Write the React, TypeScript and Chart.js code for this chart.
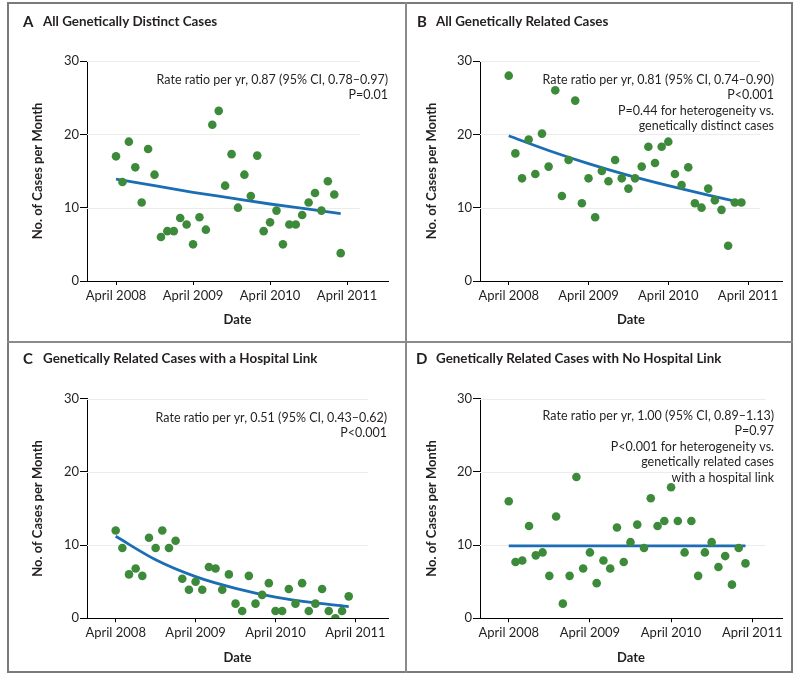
import { useEffect, useRef } from "react";
import { Chart, registerables } from "chart.js";

Chart.register(...registerables);

// Months since April 2008 (0 = April 2008, 35 = March 2011)
const months = [0, 1, 2, 3, 4, 5, 6, 7, 8, 9, 10, 11, 12, 13, 14, 15, 16, 17, 18, 19, 20, 21, 22, 23, 24, 25, 26, 27, 28, 29, 30, 31, 32, 33, 34, 35];

const tickMonths = [0, 12, 24, 36];
const tickLabels = ["April 2008", "April 2009", "April 2010", "April 2011"];

const yTicks = [0, 10, 20, 30];

// Panel A: all genetically distinct cases
const distinctCases = [17, 13.5, 19, 15.5, 10.7, 18, 14.5, 6, 6.8, 6.8, 8.6, 7.7, 5, 8.7, 7, 21.3, 23.2, 13, 17.3, 10, 14.5, 11.6, 17.1, 6.8, 8, 9.6, 5, 7.7, 7.7, 9, 10.7, 12, 9.6, 13.6, 11.8, 3.8];
// Panel B: all genetically related cases
const relatedCases = [28, 17.4, 14, 19.3, 14.6, 20.1, 15.6, 26, 11.6, 16.5, 24.6, 10.6, 14, 8.7, 15, 13.6, 16.5, 14, 12.6, 14, 15.6, 18.3, 16.1, 18.3, 19, 14.6, 13.1, 15.5, 10.6, 10, 12.6, 11, 9.7, 4.8, 10.7, 10.7];
// Panel C: genetically related cases with a hospital link
const hospitalLinkCases = [12, 9.6, 6, 6.8, 5.8, 11, 9.6, 12, 9.6, 10.6, 5.4, 3.9, 5, 3.9, 7, 6.8, 3.9, 6, 2, 1, 5.8, 2, 3.2, 4.8, 1, 1, 4, 2, 4.8, 1, 2, 4, 1, 0, 1, 3];
// Panel D: genetically related cases with no hospital link
const noHospitalLinkCases = [16, 7.7, 7.9, 12.6, 8.6, 9, 5.8, 13.9, 2, 5.8, 19.3, 6.8, 9, 4.8, 7.9, 6.8, 12.4, 7.7, 10.4, 12.8, 9.6, 16.4, 12.6, 13.3, 17.9, 13.3, 9, 13.3, 5.8, 9, 10.4, 7, 8.5, 4.6, 9.6, 7.5];

// Fitted trend curves, read at these months
const trendMonths = [0, 6, 12, 18, 24, 30, 35];
const distinctTrend = [13.9, 13.0, 12.1, 11.3, 10.5, 9.8, 9.2];
const relatedTrend = [19.8, 17.8, 16.0, 14.4, 13.0, 11.7, 10.7];
const hospitalLinkTrend = [11.2, 8.0, 5.7, 4.1, 2.9, 2.1, 1.6];
const noHospitalLinkTrend = [9.9, 9.9, 9.9, 9.9, 9.9, 9.9, 9.9];

const FONT = "Lato, 'Open Sans', sans-serif";
const TEXT = "#231f20";
const GREEN = "#3d8b3a";
const BLUE = "#1b6db4";

type Panel = {
  letter: string;
  title: string;
  values: number[];
  trend: number[];
  notes: string[];
  box: { left: number; top: number; width: number; height: number };
  area: { left: number; right: number; top: number; bottom: number };
  xMin: number;
  xMax: number;
  gridEnd: number;
  yTitleX: number;
  titleY: number;
  letterX: number;
  titleX: number;
  noteRight: number;
  noteTop: number;
  dateY: number;
};

const panels: Panel[] = [
  {
    letter: "A",
    title: "All Genetically Distinct Cases",
    values: distinctCases,
    trend: distinctTrend,
    notes: ["Rate ratio per yr, 0.87 (95% CI, 0.78\u20130.97)", "P=0.01"],
    box: { left: 9, top: 4, width: 397, height: 338 },
    area: { left: 78, right: 379, top: 57, bottom: 277 },
    xMin: -4.52,
    xMax: 42.37,
    gridEnd: 38,
    yTitleX: 29,
    titleY: 18,
    letterX: 14,
    titleX: 34,
    noteRight: 379,
    noteTop: 76,
    dateY: 316,
  },
  {
    letter: "B",
    title: "All Genetically Related Cases",
    values: relatedCases,
    trend: relatedTrend,
    notes: [
      "Rate ratio per yr, 0.81 (95% CI, 0.74\u20130.90)",
      "P<0.001",
      "P=0.44 for heterogeneity vs.",
      "genetically distinct cases",
    ],
    box: { left: 407, top: 4, width: 385, height: 338 },
    area: { left: 73, right: 375, top: 57, bottom: 277 },
    xMin: -4.32,
    xMax: 41.1,
    gridEnd: 37.8,
    yTitleX: 25,
    titleY: 18,
    letterX: 10,
    titleX: 29,
    noteRight: 367,
    noteTop: 76,
    dateY: 316,
  },
  {
    letter: "C",
    title: "Genetically Related Cases with a Hospital Link",
    values: hospitalLinkCases,
    trend: hospitalLinkTrend,
    notes: ["Rate ratio per yr, 0.51 (95% CI, 0.43\u20130.62)", "P<0.001"],
    box: { left: 9, top: 343, width: 397, height: 329 },
    area: { left: 78, right: 379, top: 55.7, bottom: 275.3 },
    xMin: -4.31,
    xMax: 40.9,
    gridEnd: 37.9,
    yTitleX: 29,
    titleY: 16,
    letterX: 14,
    titleX: 34,
    noteRight: 378,
    noteTop: 74.7,
    dateY: 314.7,
  },
  {
    letter: "D",
    title: "Genetically Related Cases with No Hospital Link",
    values: noHospitalLinkCases,
    trend: noHospitalLinkTrend,
    notes: [
      "Rate ratio per yr, 1.00 (95% CI, 0.89\u20131.13)",
      "P=0.97",
      "P<0.001 for heterogeneity vs.",
      "genetically related cases",
      "with a hospital link",
    ],
    box: { left: 407, top: 343, width: 385, height: 329 },
    area: { left: 73, right: 375, top: 55.7, bottom: 275.3 },
    xMin: -4.25,
    xMax: 40.4,
    gridEnd: 38,
    yTitleX: 24.7,
    titleY: 16,
    letterX: 9,
    titleX: 29,
    noteRight: 367,
    noteTop: 73,
    dateY: 314.7,
  },
];

function PanelChart({ p }: { p: Panel }) {
  const ref = useRef<HTMLCanvasElement | null>(null);

  useEffect(() => {
    if (!ref.current) return;
    const W = p.box.width;
    const H = p.box.height;
    const tickFontSize = 13;
    const titleFontSize = 13;
    const lh = titleFontSize * 1.2;

    const decor = {
      id: "decor",
      beforeDatasetsDraw(chart: any) {
        const ctx = chart.ctx;
        const xs = chart.scales.x;
        const ys = chart.scales.y;
        ctx.save();
        ctx.strokeStyle = "#ececec";
        ctx.lineWidth = 1;
        for (const v of yTicks) {
          if (v === 0) continue;
          const y = Math.round(ys.getPixelForValue(v)) + 0.5;
          ctx.beginPath();
          ctx.moveTo(chart.chartArea.left, y);
          ctx.lineTo(xs.getPixelForValue(p.gridEnd), y);
          ctx.stroke();
        }
        ctx.restore();
      },
      afterDraw(chart: any) {
        const ctx = chart.ctx;
        ctx.save();
        ctx.fillStyle = TEXT;
        ctx.textBaseline = "middle";
        ctx.textAlign = "left";
        ctx.font = `bold 15px ${FONT}`;
        ctx.fillText(p.letter, p.letterX, p.titleY);
        ctx.font = `bold 13.4px ${FONT}`;
        ctx.fillText(p.title, p.titleX, p.titleY);
        ctx.font = `12.5px ${FONT}`;
        ctx.textAlign = "right";
        p.notes.forEach((line, i) => {
          ctx.fillText(line, p.noteRight, p.noteTop + i * 15.4);
        });
        ctx.restore();
      },
    };

    const chart = new Chart(ref.current, {
      type: "scatter",
      data: {
        datasets: [
          {
            type: "line",
            data: trendMonths.map((m, i) => ({ x: m, y: p.trend[i] })),
            borderColor: BLUE,
            borderWidth: 2.8,
            pointRadius: 0,
            cubicInterpolationMode: "monotone",
            fill: false,
            order: 2,
          } as any,
          {
            type: "scatter",
            data: months.map((m, i) => ({ x: m, y: p.values[i] })),
            backgroundColor: GREEN,
            borderColor: GREEN,
            borderWidth: 0,
            pointRadius: 4.3,
            order: 1,
          },
        ],
      },
      options: {
        responsive: false,
        animation: false,
        events: [],
        layout: {
          padding: { left: 0, top: p.area.top, right: W - p.area.right, bottom: 0 },
        },
        plugins: {
          legend: { display: false },
          tooltip: { enabled: false },
        },
        scales: {
          x: {
            type: "linear",
            min: p.xMin,
            max: p.xMax,
            afterFit(scale: any) {
              scale.height = H - p.area.bottom;
            },
            afterBuildTicks(scale: any) {
              scale.ticks = tickMonths.map((v) => ({ value: v }));
            },
            ticks: {
              autoSkip: false,
              maxRotation: 0,
              padding: 3,
              color: TEXT,
              font: { family: FONT, size: tickFontSize },
              callback: (v: any) => {
                const idx = tickMonths.indexOf(Number(v));
                return idx >= 0 ? tickLabels[idx] : "";
              },
            },
            grid: {
              drawOnChartArea: false,
              drawTicks: true,
              tickLength: 4,
              tickColor: "#000",
              tickWidth: 1,
            },
            border: { display: true, color: "#000", width: 1 },
            title: {
              display: true,
              text: "Date",
              color: TEXT,
              font: { family: FONT, size: titleFontSize, weight: "bold" },
              padding: { top: 0, bottom: H - p.dateY - lh / 2 },
            },
          },
          y: {
            type: "linear",
            min: 0,
            max: 30,
            afterFit(scale: any) {
              scale.width = p.area.left;
            },
            afterBuildTicks(scale: any) {
              scale.ticks = yTicks.map((v) => ({ value: v }));
            },
            ticks: {
              padding: 1,
              color: TEXT,
              font: { family: FONT, size: tickFontSize },
            },
            grid: {
              drawOnChartArea: false,
              drawTicks: true,
              tickLength: 7,
              tickColor: "#000",
              tickWidth: 1,
            },
            border: { display: true, color: "#000", width: 1 },
            title: {
              display: true,
              text: "No. of Cases per Month",
              color: TEXT,
              font: { family: FONT, size: titleFontSize, weight: "bold" },
              padding: { top: p.yTitleX - lh / 2, bottom: 0 },
            },
          },
        },
      },
      plugins: [decor],
    });
    return () => chart.destroy();
  }, [p]);

  return (
    <canvas
      ref={ref}
      width={p.box.width}
      height={p.box.height}
      style={{
        position: "absolute",
        left: p.box.left,
        top: p.box.top,
        width: p.box.width,
        height: p.box.height,
        display: "block",
      }}
    />
  );
}

export default function App() {
  return (
    <div style={{ position: "absolute", left: 0, top: 0, width: 800, height: 676, background: "#fff" }}>
      {/* panel frame */}
      <div
        style={{
          position: "absolute",
          left: 7,
          top: 2,
          width: 786,
          height: 671,
          boxSizing: "border-box",
          border: "2px solid #7a7a7a",
        }}
      />
      <div style={{ position: "absolute", left: 405, top: 2, width: 2, height: 671, background: "#8a8a8a" }} />
      <div style={{ position: "absolute", left: 7, top: 341, width: 786, height: 2, background: "#8a8a8a" }} />
      {panels.map((p) => (
        <PanelChart key={p.letter} p={p} />
      ))}
    </div>
  );
}
